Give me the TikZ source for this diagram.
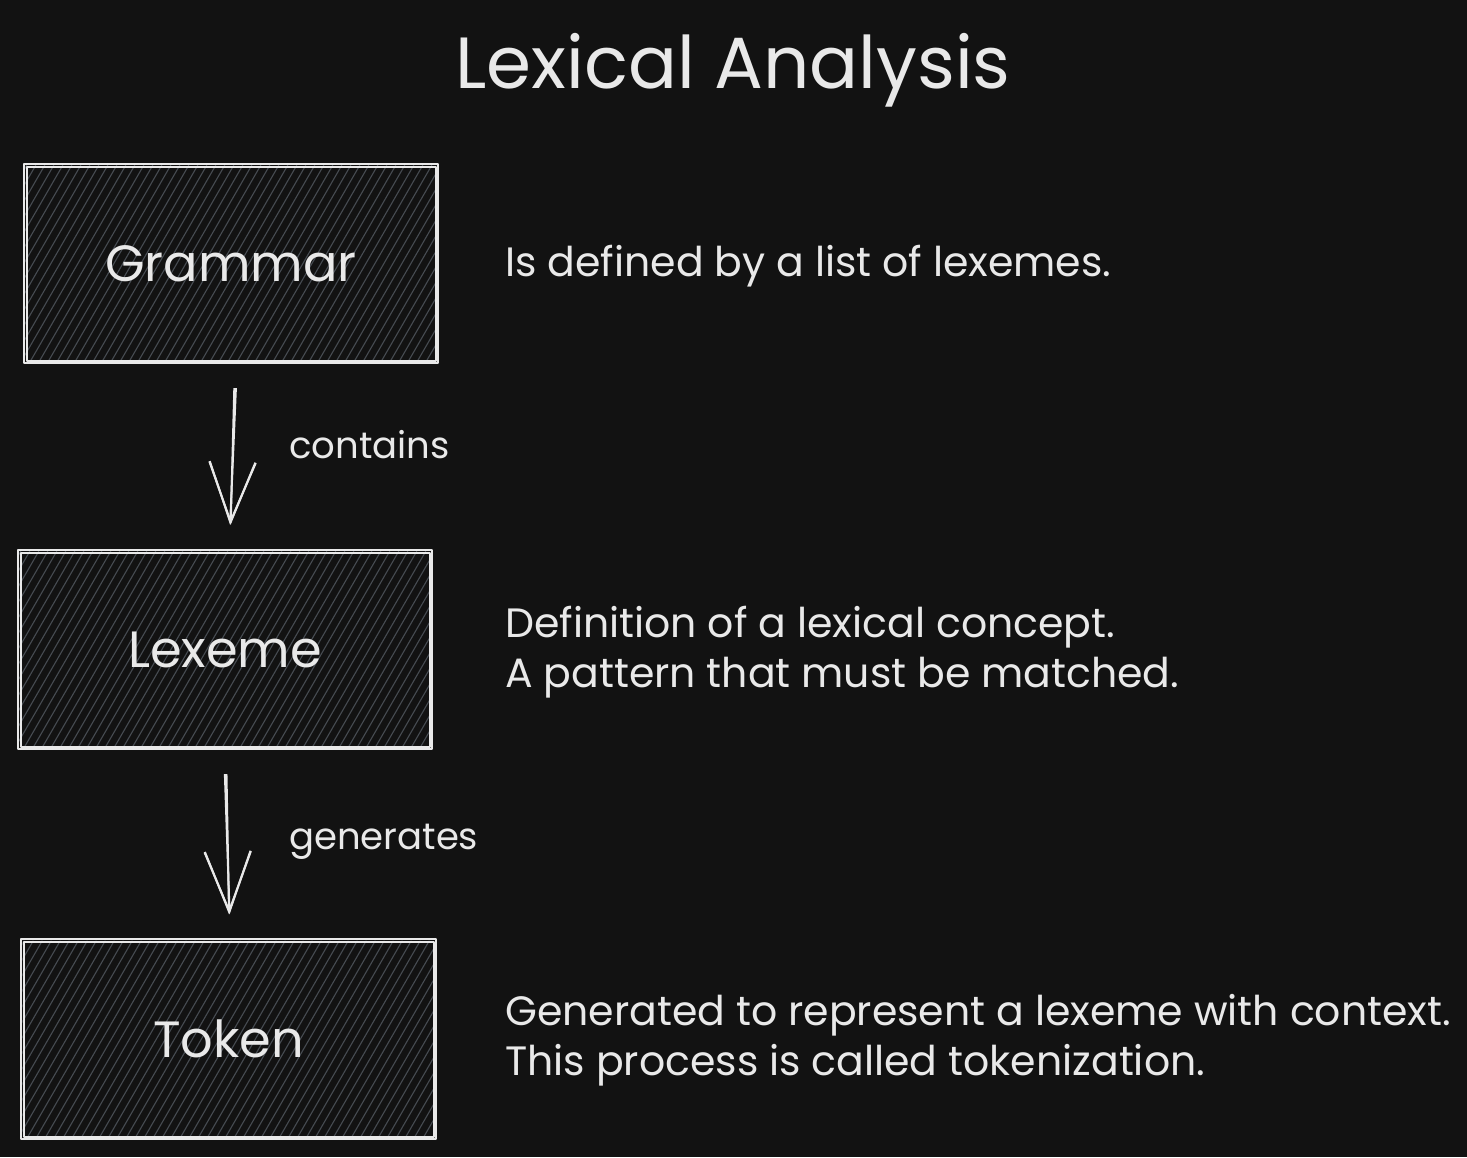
\documentclass[tikz,border=0pt]{standalone}
\usepackage{fontspec}
\setmainfont{Poppins}
\usetikzlibrary{arrows.meta,calc}
\definecolor{bg}{HTML}{121212}
\definecolor{ink}{HTML}{E9E9E9}
\definecolor{hatchc}{HTML}{464B51}
\tikzset{
  box/.style={rectangle, minimum width=412pt, minimum height=197pt, inner sep=0pt, text=ink, font=\fontsize{51}{56}\selectfont},
  side/.style={anchor=west, align=left, text=ink, inner sep=0pt, font=\fontsize{41}{50}\selectfont},
  lbl/.style={anchor=west, text=ink, inner sep=0pt, font=\fontsize{37}{42}\selectfont},
  edge/.style={rectangle, draw=ink, line width=1.7pt, line join=round},
  hatch/.style={draw=hatchc, line width=1.1pt},
  arr/.style={draw=ink, line width=2pt, -{Straight Barb[length=60pt, width=46pt, line width=2pt]}, shorten <=26pt, shorten >=26pt}
}
\newcommand{\sketchbox}[1]{%
  \begin{scope}
    \clip (#1.south west) rectangle (#1.north east);
    \foreach \i in {-130,-121,...,420}
      \draw[hatch] ($(#1.south west)+(\i,0)$) -- ++(114,-197);
  \end{scope}
  \draw[edge] ($(#1.south west)+(-1,1)$) rectangle ($(#1.north east)+(1,-1)$);
  \draw[edge] ($(#1.south west)+(2,-1)$) rectangle ($(#1.north east)+(-1,2)$);
}
\begin{document}
\begin{tikzpicture}[x=1pt,y=-1pt]
\fill[bg] (0,0) rectangle (1467,1157);
\useasboundingbox (0,0) rectangle (1467,1157);

\node[text=ink, inner sep=0pt, font=\fontsize{72.5}{80}\selectfont] (title) at (733,70) {Lexical Analysis};

\node[box] (g) at (231,263.5) {};
\node[box] (l) at (225,649.5) {};
\node[box] (t) at (228.5,1039) {};
\sketchbox{g}
\sketchbox{l}
\sketchbox{t}
\node[box] at (g) {Grammar};
\node[box] at (l) {Lexeme};
\node[box] at (t) {Token};

\draw[arr] ([xshift=4pt]g.south) -- ([xshift=5pt]l.north);
\draw[arr] ([xshift=6pt]g.south) -- ([xshift=4pt]l.north);
\draw[arr] ([xshift=-1pt]l.south) -- ([xshift=2pt]t.north);
\draw[arr] ([xshift=1pt]l.south) -- ([xshift=1pt]t.north);
\node[lbl] (c) at (289,445) {contains};
\node[lbl] (ge) at (289,842) {generates};

\node[side] (gd) at (505,266) {Is defined by a list of lexemes.};
\node[side] (ld) at (505,652) {Definition of a lexical concept.\\A pattern that must be matched.};
\node[side] (td) at (505,1040) {Generated to represent a lexeme with context.\\This process is called tokenization.};
\end{tikzpicture}
\end{document}
